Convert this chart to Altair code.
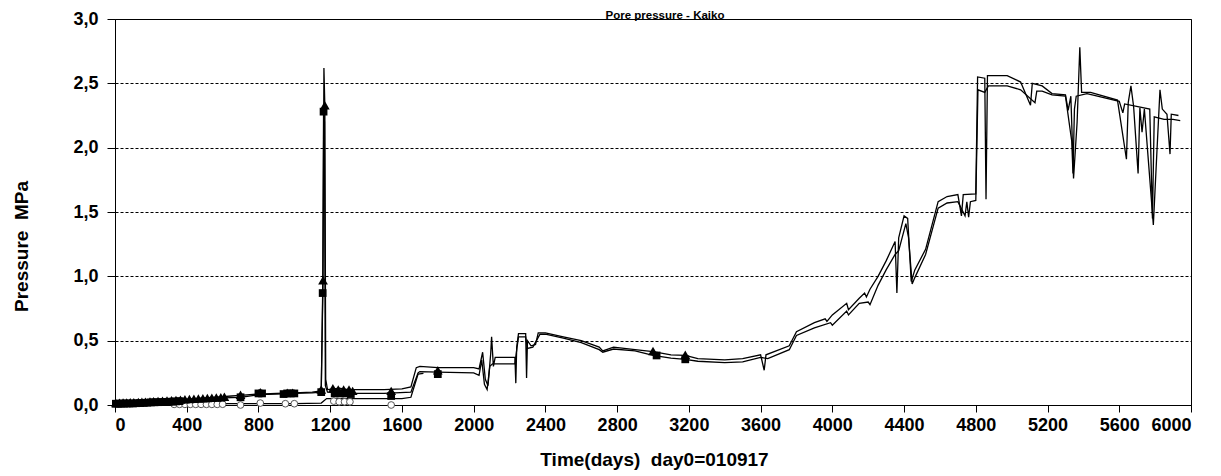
import altair as alt
import pandas as pd

# ---------------- data ----------------
x_ticks = list(range(0, 6001, 400))
y_ticks = [0.0, 0.5, 1.0, 1.5, 2.0, 2.5, 3.0]

# Series A (upper line, filled triangles): (day, MPa)
a_points = [(0, 0.015), (100, 0.02), (200, 0.025), (300, 0.035), (400, 0.045), (500, 0.055), (600, 0.065),
            (650, 0.07), (700, 0.075), (800, 0.085), (900, 0.09), (1000, 0.095), (1100, 0.10), (1150, 0.11),
            (1160, 0.97), (1165, 2.62), (1170, 2.33), (1175, 0.20), (1185, 0.12), (1250, 0.13), (1300, 0.12),
            (1400, 0.12), (1500, 0.12), (1600, 0.125), (1650, 0.14), (1680, 0.29), (1700, 0.30), (1800, 0.29),
            (2000, 0.29), (2030, 0.28), (2050, 0.41), (2065, 0.20), (2080, 0.15), (2095, 0.40), (2100, 0.53),
            (2110, 0.30), (2120, 0.37), (2200, 0.37), (2230, 0.37), (2235, 0.17), (2240, 0.45), (2250, 0.555),
            (2290, 0.555), (2295, 0.21), (2300, 0.50), (2320, 0.46), (2345, 0.47), (2360, 0.56), (2400, 0.56),
            (2500, 0.53), (2600, 0.50), (2700, 0.45), (2720, 0.42), (2780, 0.45), (2900, 0.43), (3000, 0.415),
            (3100, 0.39), (3180, 0.385), (3250, 0.36), (3400, 0.35), (3500, 0.36), (3600, 0.39), (3620, 0.27),
            (3630, 0.39), (3760, 0.46), (3800, 0.57), (3900, 0.64), (3960, 0.67), (3970, 0.65), (4000, 0.70),
            (4080, 0.79), (4090, 0.74), (4150, 0.83), (4180, 0.87), (4190, 0.84), (4210, 0.90), (4255, 1.00),
            (4300, 1.12), (4350, 1.27), (4360, 0.87), (4370, 1.30), (4400, 1.47), (4420, 1.45), (4440, 0.96),
            (4460, 1.05), (4520, 1.21), (4590, 1.58), (4640, 1.62), (4700, 1.635), (4720, 1.47), (4730, 1.635),
            (4800, 1.64), (4810, 2.55), (4850, 2.54), (4857, 1.60), (4865, 2.56), (4975, 2.56), (5050, 2.51),
            (5105, 2.33), (5115, 2.50), (5170, 2.48), (5225, 2.42), (5300, 2.41), (5315, 2.29), (5330, 2.40),
            (5345, 1.76), (5365, 2.20), (5380, 2.78), (5390, 2.43), (5440, 2.43), (5590, 2.37), (5640, 1.91),
            (5650, 2.35), (5665, 2.48), (5680, 2.32), (5705, 1.80), (5715, 2.31), (5727, 2.12), (5740, 2.30),
            (5790, 1.40), (5810, 1.97), (5827, 2.45), (5840, 2.30), (5866, 2.26), (5883, 1.95), (5890, 2.26),
            (5930, 2.25)]

# Series B (middle line, filled squares)
b_points = [(0, 0.01), (100, 0.012), (200, 0.02), (300, 0.025), (400, 0.035), (500, 0.045), (600, 0.055),
            (700, 0.06), (800, 0.08), (900, 0.085), (1000, 0.09), (1100, 0.095), (1150, 0.10), (1158, 0.87),
            (1163, 2.28), (1168, 2.20), (1173, 0.15), (1185, 0.10), (1300, 0.09), (1500, 0.09), (1650, 0.10),
            (1690, 0.25), (1700, 0.26), (1800, 0.255), (2000, 0.25), (2030, 0.23), (2045, 0.35), (2060, 0.16),
            (2075, 0.12), (2090, 0.30), (2105, 0.32), (2120, 0.32), (2230, 0.32), (2242, 0.45), (2250, 0.53),
            (2290, 0.53), (2300, 0.44), (2330, 0.45), (2350, 0.50), (2370, 0.55), (2400, 0.55), (2500, 0.52),
            (2600, 0.485), (2700, 0.43), (2720, 0.41), (2780, 0.435), (2900, 0.42), (3000, 0.385),
            (3100, 0.365), (3180, 0.355), (3250, 0.34), (3400, 0.33), (3500, 0.335), (3600, 0.37),
            (3640, 0.36), (3760, 0.43), (3800, 0.54), (3900, 0.60), (3990, 0.64), (4000, 0.62), (4080, 0.73),
            (4090, 0.70), (4150, 0.79), (4200, 0.80), (4210, 0.78), (4255, 0.93), (4300, 1.05), (4350, 1.17),
            (4370, 1.20), (4410, 1.41), (4425, 1.30), (4445, 0.94), (4460, 0.99), (4520, 1.17), (4590, 1.53),
            (4640, 1.57), (4700, 1.58), (4740, 1.47), (4750, 1.58), (4760, 1.46), (4770, 1.58), (4800, 1.59),
            (4812, 2.45), (4850, 2.43), (4870, 2.48), (4975, 2.48), (5050, 2.45), (5130, 2.35), (5140, 2.44),
            (5170, 2.44), (5225, 2.41), (5300, 2.40), (5335, 2.05), (5342, 1.80), (5350, 2.30), (5360, 2.40),
            (5420, 2.42), (5600, 2.36), (5620, 2.27), (5630, 2.34), (5770, 2.30), (5785, 1.45), (5795, 2.24),
            (5850, 2.22), (5880, 2.22), (5900, 2.22), (5940, 2.21)]

# Series C (lowest line, open circles)
c_points = [(0, 0.005), (300, 0.005), (600, 0.01), (700, 0.01), (1000, 0.01), (1150, 0.015), (1180, 0.05),
            (1600, 0.05), (1650, 0.06), (1690, 0.24), (1720, 0.245)]

# Marker positions
a_markers = [(5, 0.016), (25, 0.018), (45, 0.019), (65, 0.02), (85, 0.021), (105, 0.022), (130, 0.024),
             (150, 0.025), (170, 0.026), (195, 0.028), (215, 0.03), (240, 0.032), (265, 0.034), (290, 0.036),
             (315, 0.038), (340, 0.04), (365, 0.042), (390, 0.044), (415, 0.046), (440, 0.048), (465, 0.05),
             (490, 0.052), (515, 0.054), (540, 0.056), (565, 0.058), (590, 0.06), (610, 0.064), (700, 0.08),
             (810, 0.10), (960, 0.095), (990, 0.095), (1150, 0.12), (1160, 0.97), (1170, 2.33), (1215, 0.13),
             (1245, 0.12), (1275, 0.12), (1305, 0.12), (1325, 0.11), (1540, 0.11), (1800, 0.27), (3000, 0.42),
             (3180, 0.39)]
b_markers = [(5, 0.01), (20, 0.01), (35, 0.011), (50, 0.011), (65, 0.012), (80, 0.012), (100, 0.012),
             (120, 0.014), (140, 0.015), (160, 0.016), (180, 0.018), (200, 0.02), (220, 0.021), (240, 0.022),
             (260, 0.023), (280, 0.024), (300, 0.025), (320, 0.026), (340, 0.028), (360, 0.03), (700, 0.06),
             (800, 0.09), (820, 0.09), (940, 0.085), (960, 0.09), (980, 0.09), (1000, 0.09), (1150, 0.10),
             (1158, 0.87), (1163, 2.28), (1225, 0.09), (1255, 0.09), (1285, 0.09), (1315, 0.085), (1540, 0.07),
             (1800, 0.24), (3020, 0.385), (3180, 0.355)]
c_markers = [(330, 0.005), (360, 0.005), (390, 0.005), (420, 0.005), (450, 0.005), (480, 0.005), (510, 0.005),
             (540, 0.005), (570, 0.005), (600, 0.006), (700, 0.0), (810, 0.015), (950, 0.01), (1000, 0.01),
             (1220, 0.03), (1250, 0.025), (1280, 0.025), (1310, 0.025), (1540, 0.0)]

title_text = "Pore pressure - Kaiko"
x_title = "Time(days)\u00a0 day0=010917"
y_title = "Pressure\u00a0 MPa"

# ---------------- tables ----------------
def series(name, pts):
    return pd.DataFrame({"series": name, "day": [p[0] for p in pts], "val": [p[1] for p in pts],
                         "idx": range(len(pts))})

def marks(pts):
    return pd.DataFrame({"day": [p[0] for p in pts], "val": [p[1] for p in pts]})

lines_df = pd.concat([series("A", a_points), series("B", b_points), series("C", c_points)], ignore_index=True)

FONT = "Liberation Sans"

x_enc = alt.X("day:Q", scale=alt.Scale(domain=[0, 6000], nice=False, zero=False),
              axis=alt.Axis(values=x_ticks, format="d", title=x_title, grid=False,
                            tickSize=7, labelPadding=4, titleX=539, titleY=54,
                            titleBaseline="middle"))
y_enc = alt.Y("val:Q", scale=alt.Scale(domain=[0, 3], nice=False),
              axis=alt.Axis(values=y_ticks, title=y_title, grid=True, gridDash=[3, 2],
                            gridColor="black", gridWidth=1, gridOpacity=1,
                            labelExpr="replace(format(datum.value, '.1f'), '.', ',')",
                            tickSize=8, labelPadding=9, titleAngle=270, titleX=-94, titleY=227,
                            titleAlign="center", titleBaseline="middle"))

lines = alt.Chart(lines_df).mark_line(color="black", strokeWidth=1.3, clip=True).encode(
    x=x_enc, y=y_enc, detail="series:N", order="idx:Q")

tris = alt.Chart(marks(a_markers)).mark_point(shape="triangle-up", filled=True, color="black", size=95,
                                              opacity=1).encode(x="day:Q", y="val:Q")
sqs = alt.Chart(marks(b_markers)).mark_point(shape="square", filled=True, color="black", size=60,
                                             opacity=1).encode(x="day:Q", y="val:Q")
circs = alt.Chart(marks(c_markers)).mark_point(shape="circle", filled=False, color="#555555", fill="white",
                                               fillOpacity=1, size=45, strokeWidth=1, opacity=1).encode(
    x="day:Q", y="val:Q")

title = alt.Chart(pd.DataFrame({"t": [title_text]})).mark_text(
    font=FONT, fontSize=11.5, fontWeight="bold", color="black", align="center",
    baseline="alphabetic").encode(text="t:N", x=alt.value(550), y=alt.value(0))

chart = alt.layer(lines, circs, sqs, tris, title).properties(
    width=1076, height=386,
    autosize=alt.AutoSizeParams(type="none"),
    padding={"left": 107, "top": 11, "right": 14, "bottom": 71},
).configure_view(stroke="black", strokeWidth=1).configure_axis(
    domainColor="black", tickColor="black", labelColor="black", titleColor="black",
    labelFont=FONT, titleFont=FONT, labelFontWeight="bold", titleFontWeight="bold",
    labelFontSize=18, titleFontSize=19, domainWidth=1, tickWidth=1
)

chart.save("out.html", embed_options={"renderer": "svg", "actions": False})
